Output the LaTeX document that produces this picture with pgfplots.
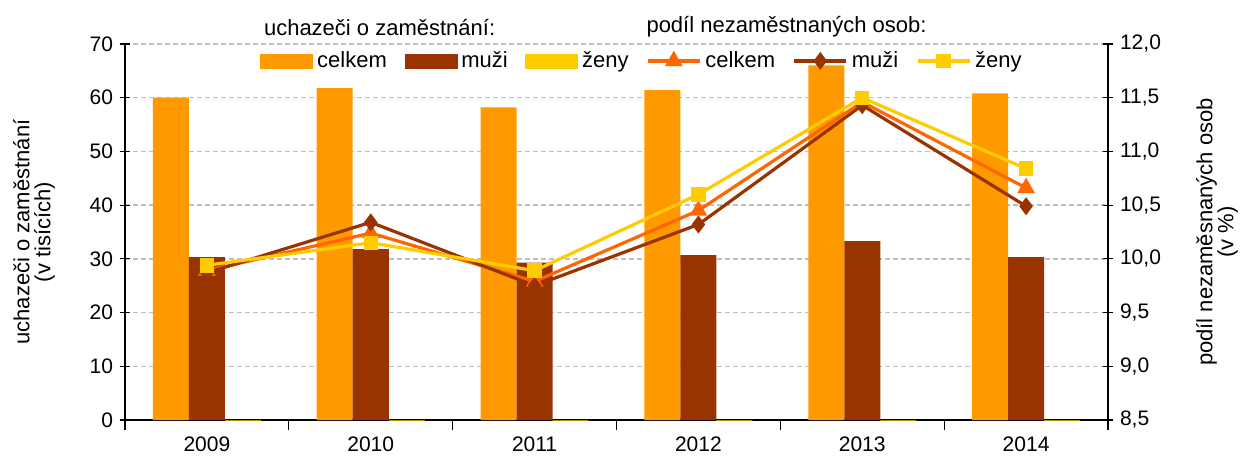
\documentclass[border=0pt]{standalone}
\usepackage{fontspec}
\setmainfont{Liberation Sans}
\usepackage{pgfplots}
\pgfplotsset{compat=1.18}
\definecolor{cC}{HTML}{FF9900}
\definecolor{cM}{HTML}{993300}
\definecolor{cZ}{HTML}{FFCC00}
\definecolor{lC}{HTML}{FF6600}
\definecolor{gridc}{HTML}{BFBFBF}
\begin{document}
\begin{tikzpicture}
\pgfplotsset{
  common/.style={width=491.5pt,height=188pt,scale only axis,
    xmin=-0.5,xmax=5.5,
    tick align=center, major tick length=5pt, minor tick length=5pt,
    tick style={black, line width=0.6pt},
    axis line style={black, line width=0.8pt},
    ticklabel style={font=\fontsize{10.5}{12}\selectfont},
    /pgf/number format/assume math mode=true},
  barleg/.style={legend image code/.code={\fill[#1] (0pt,-3.5pt) rectangle (26pt,3.5pt);}},
  lineleg/.style={legend image code/.code={\draw[mark repeat=2,mark phase=2] plot coordinates {(0pt,0pt) (13pt,0pt) (26pt,0pt)};}}
}
\begin{axis}[common, name=ax,
  ymin=0, ymax=70, ytick={0,10,...,70},
  axis y line*=left, axis x line*=bottom,
  ybar=0pt, bar width=18pt,
  ymajorgrids, grid style={gridc, dash pattern=on 2.5pt off 1.5pt, line width=0.7pt},
  xtick={0,...,5}, xticklabels={2009,2010,2011,2012,2013,2014},
  major x tick style={draw=none},
  minor xtick={-0.5,0.5,1.5,2.5,3.5,4.5,5.5},
  ylabel={uchazeči o zaměstnání\\(v tisících)},
  every axis y label/.style={at={(axis description cs:-0.0925,0.5)}, rotate=90, anchor=center,
     align=center, font=\fontsize{11}{10.5}\selectfont},
]
\addplot[fill=cC, draw=none] coordinates {(0,60.0) (1,61.8) (2,58.2) (3,61.4) (4,66.0) (5,60.8)};
\addplot[fill=cM, draw=none] coordinates {(0,30.3) (1,31.8) (2,29.3) (3,30.7) (4,33.3) (5,30.3)};
\addplot[fill=cZ, draw=cZ, line width=0.3pt] coordinates {(0,0) (1,0) (2,0) (3,0) (4,0) (5,0)};
\end{axis}
\begin{axis}[common, clip=false,
  ymin=8.5, ymax=12, ytick={8.5,9,...,12},
  axis y line*=right, axis x line=none,
  yticklabel={\pgfmathprintnumber[fixed,fixed zerofill,precision=1,use comma]{\tick}},
  ylabel={podíl nezaměsnaných osob\\(v \%)},
  every axis y label/.style={at={(axis description cs:1.111,0.5)}, rotate=90, anchor=center,
     align=center, font=\fontsize{11}{10.5}\selectfont},
  legend columns=6,
  legend style={at={(axis description cs:0.527,0.955)}, anchor=center, draw=none, fill=none,
    font=\fontsize{11}{13}\selectfont, inner sep=0pt,
    nodes={inner xsep=2pt},
    /tikz/every even column/.append style={column sep=6.8pt}},
]
\addlegendimage{barleg=cC}\addlegendentry{celkem}
\addlegendimage{barleg=cM}\addlegendentry{muži}
\addlegendimage{barleg=cZ}\addlegendentry{ženy}
\addplot[lC, line width=1.6pt, mark=triangle*, mark size=3.5pt, lineleg] coordinates {(0,9.89) (1,10.24) (2,9.79) (3,10.45) (4,11.46) (5,10.66)};
\addlegendentry{celkem}
\addplot[cM, line width=1.6pt, mark=diamond*, mark size=3.2pt, lineleg] coordinates {(0,9.87) (1,10.34) (2,9.75) (3,10.32) (4,11.43) (5,10.49)};
\addlegendentry{muži}
\addplot[cZ, line width=1.6pt, mark=square*, mark size=2.8pt, lineleg] coordinates {(0,9.94) (1,10.15) (2,9.89) (3,10.60) (4,11.50) (5,10.84)};
\addlegendentry{ženy}
\node[font=\fontsize{11}{13}\selectfont] at (axis description cs:0.259,1.045) {uchazeči o zaměstnání:};
\node[font=\fontsize{11}{13}\selectfont] at (axis description cs:0.673,1.045) {podíl nezaměstnaných osob:};
\end{axis}
\pgfresetboundingbox
\path[use as bounding box] ([xshift=-62.5pt,yshift=-17.5pt]ax.south west) rectangle ([xshift=66pt,yshift=22pt]ax.north east);
\end{tikzpicture}
\end{document}
